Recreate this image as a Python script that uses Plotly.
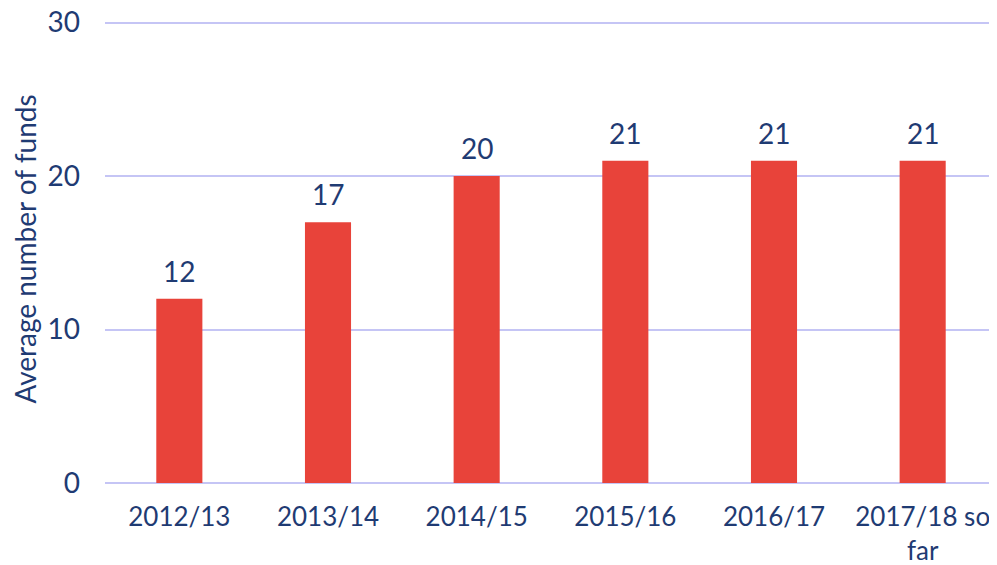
import plotly.graph_objects as go

categories = ["2012/13", "2013/14", "2014/15", "2015/16", "2016/17", "2017/18 so<br>far"]
values = [12, 17, 20, 21, 21, 21]
y_ticks = [0, 10, 20, 30]

NAVY = "#1F3B73"
RED = "#E8433A"
GRID = "#C5C5F5"
FS = 28

fig = go.Figure()
fig.add_trace(go.Bar(
    x=categories, y=values,
    marker=dict(color=RED, line=dict(width=0)),
    width=0.31,
    hoverinfo="skip",
))
for c, v in zip(categories, values):
    fig.add_annotation(x=c, y=v, text=str(v), showarrow=False,
                       yanchor="bottom", yshift=9,
                       font=dict(family="Lato", size=FS, color=NAVY))

fig.update_layout(
    width=989, height=557,
    margin=dict(l=97, r=0, t=7, b=82),
    plot_bgcolor="white", paper_bgcolor="white",
    showlegend=False,
    font=dict(family="Lato", color=NAVY),
)
fig.update_xaxes(
    showgrid=False, zeroline=False, showline=False,
    tickfont=dict(family="Lato", size=26, color=NAVY),
    ticks="", ticklabelstandoff=16, automargin=False,
    ticklabeloverflow="allow",
)
fig.update_yaxes(
    range=[0, 30.5], tickvals=y_ticks,
    showgrid=True, gridcolor=GRID, gridwidth=2,
    zeroline=True, zerolinecolor=GRID, zerolinewidth=2,
    showline=False, ticks="",
    tickfont=dict(family="Lato", size=FS, color=NAVY),
    ticklabelstandoff=24, automargin=False,
    ticklabeloverflow="allow",
    title=dict(text="Average number of funds", font=dict(family="Lato", size=FS, color=NAVY), standoff=4),
)

fig.write_html("out.html")
